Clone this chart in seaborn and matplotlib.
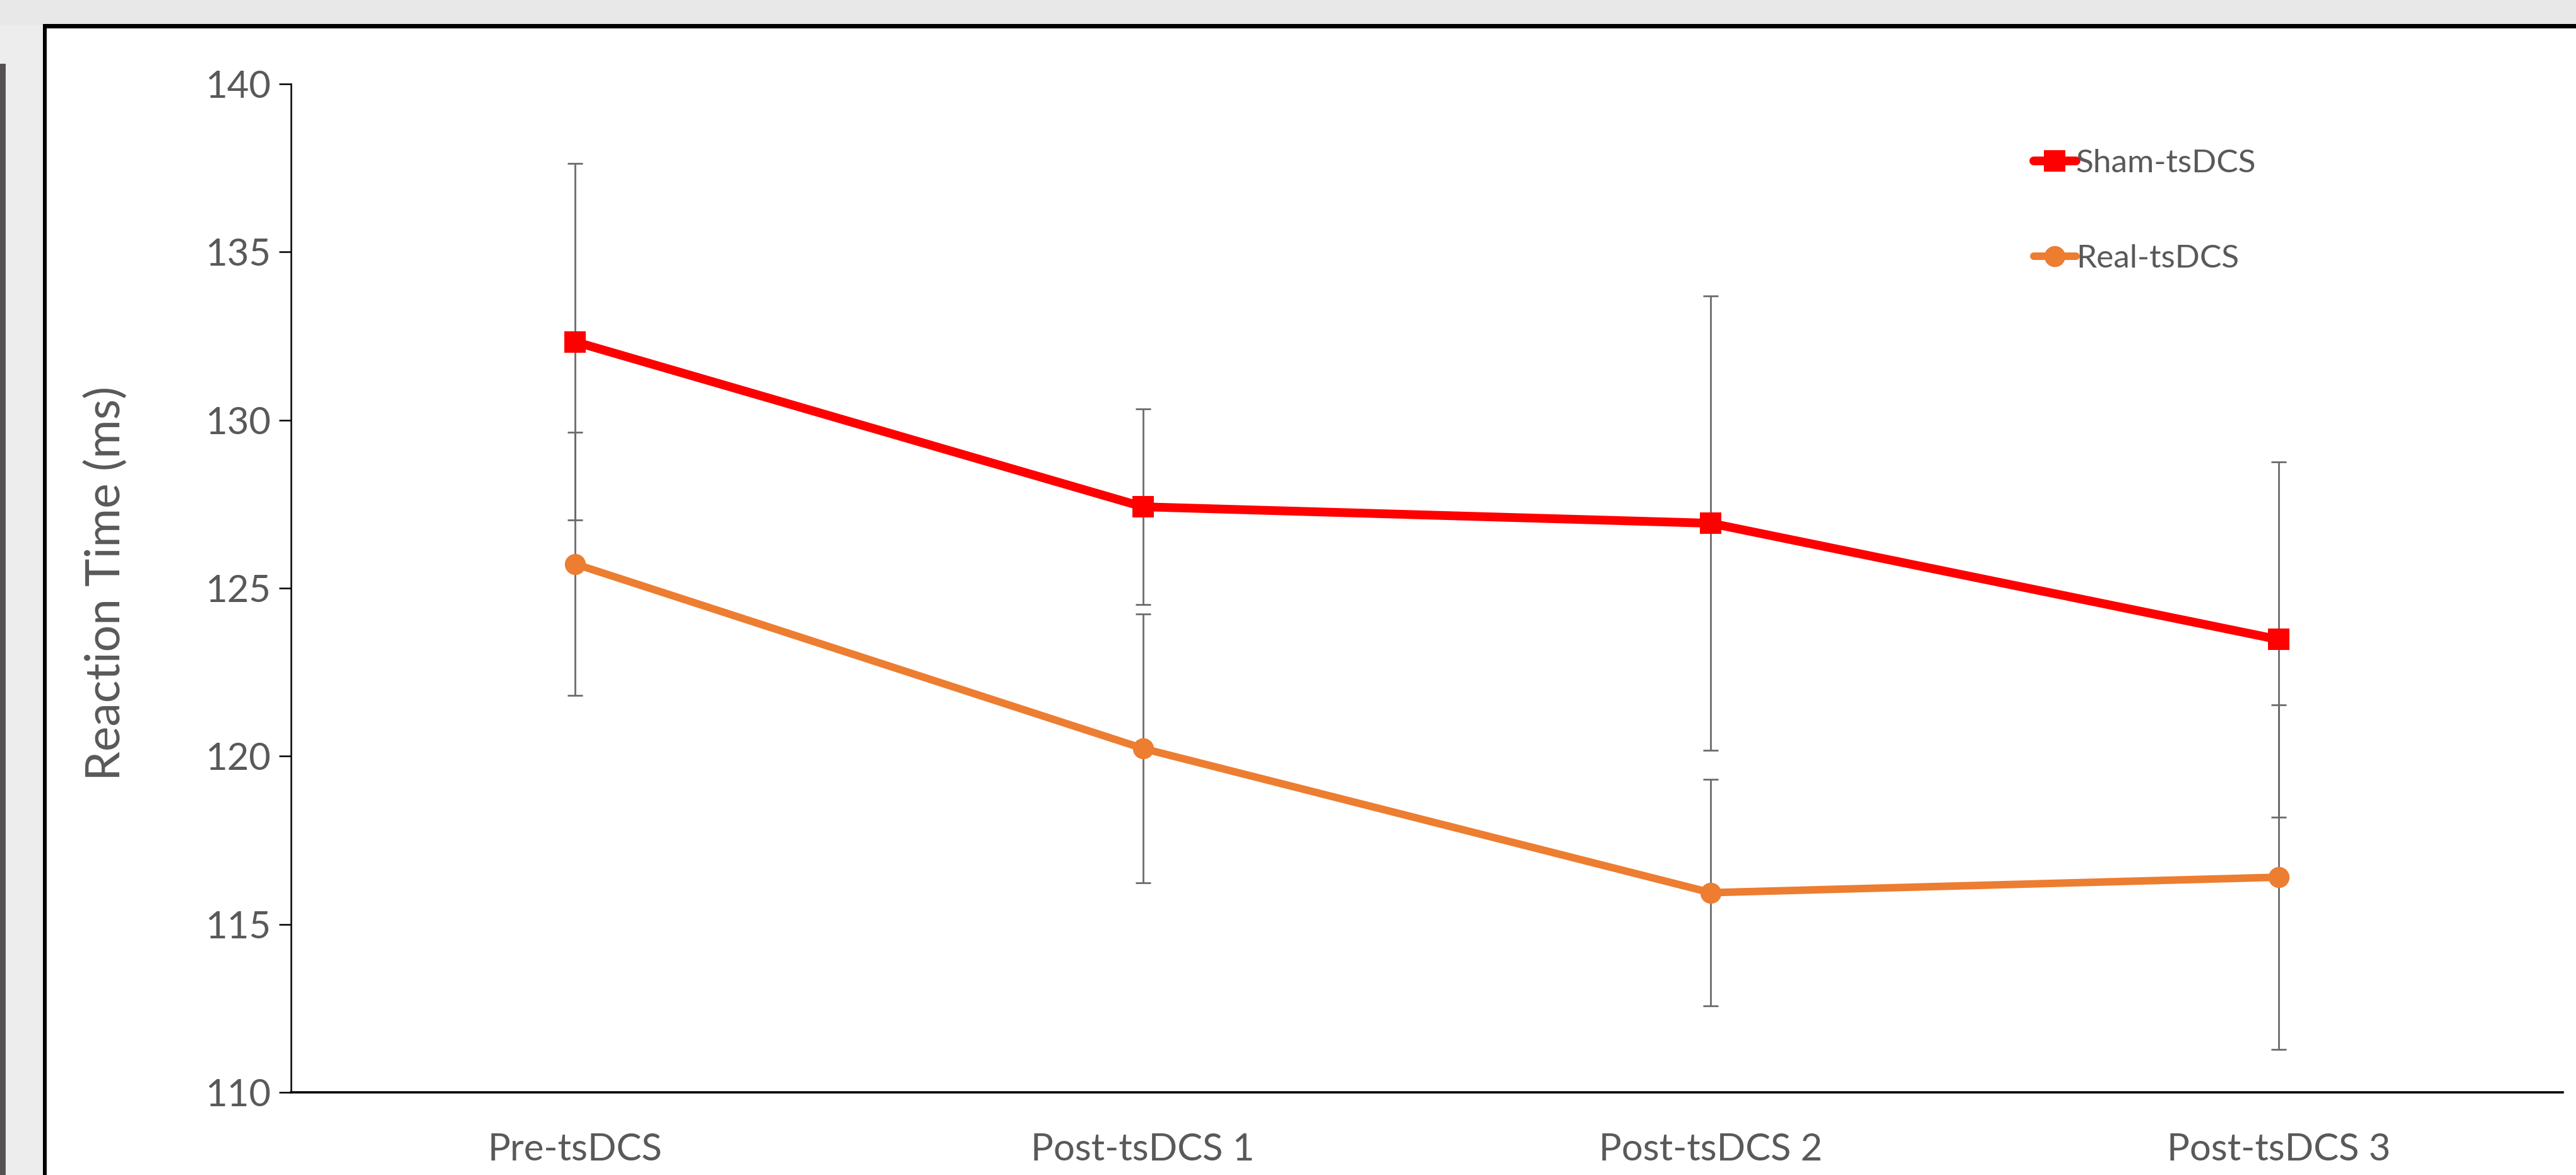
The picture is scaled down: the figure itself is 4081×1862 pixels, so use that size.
import numpy as np
import pandas as pd
import matplotlib
matplotlib.use("Agg")
import matplotlib.pyplot as plt
import seaborn as sns
from matplotlib.patches import Rectangle

# ---- data -------------------------------------------------------------
phases = ["Pre-tsDCS", "Post-tsDCS 1", "Post-tsDCS 2", "Post-tsDCS 3"]
groups = ["Sham-tsDCS", "Real-tsDCS"]
sham_mean = [132.33, 127.42, 126.93, 123.47]
sham_err = [5.30, 2.91, 6.76, 5.28]
real_mean = [125.72, 120.23, 115.94, 116.40]
real_err = [3.92, 4.00, 3.37, 5.12]
y_ticks = [110, 115, 120, 125, 130, 135, 140]
y_label = "Reaction Time (ms)"

# ---- styling ----------------------------------------------------------
sns.set_theme(style="white")
plt.rcParams["font.family"] = ["Lato", "DejaVu Sans"]
TEXT = "#595959"
colors = {"Sham-tsDCS": "#FF0000", "Real-tsDCS": "#ED7D31"}
markers = {"Sham-tsDCS": "s", "Real-tsDCS": "o"}
widths = {"Sham-tsDCS": 10.0, "Real-tsDCS": 8.6}

W, H = 4081, 1862
fig = plt.figure(figsize=(W / 100, H / 100), dpi=100, facecolor="white")

# window chrome around the chart area
fig.patches.append(Rectangle((0, 1 - 40 / H), 1, 40 / H, transform=fig.transFigure,
                             facecolor="#e8e8e8", edgecolor="none", zorder=0))
fig.patches.append(Rectangle((0, 0), 68 / W, 1 - 40 / H, transform=fig.transFigure,
                             facecolor="#ededed", edgecolor="none", zorder=0))
fig.patches.append(Rectangle((0, 0), 9 / W, 1 - 101 / H, transform=fig.transFigure,
                             facecolor="#555150", edgecolor="none", zorder=1))
fig.patches.append(Rectangle((68 / W, 1 - 45 / H), 1 - 68 / W, 7 / H, transform=fig.transFigure,
                             facecolor="black", edgecolor="none", zorder=2))
fig.patches.append(Rectangle((68 / W, 0), 6 / W, 1 - 38 / H, transform=fig.transFigure,
                             facecolor="black", edgecolor="none", zorder=2))

ax = fig.add_axes([461 / W, 1 - 1731 / H, (4060 - 461) / W, (1731 - 133) / H])
ax.set_facecolor("none")

df = pd.DataFrame({
    "phase": phases * 2,
    "group": [groups[0]] * len(phases) + [groups[1]] * len(phases),
    "rt": sham_mean + real_mean,
    "err": sham_err + real_err,
})

xpos = np.arange(len(phases))
for g in groups:
    sub = df[df["group"] == g]
    ax.errorbar(xpos, sub["rt"], yerr=sub["err"], fmt="none", ecolor="#6b6b6b",
                elinewidth=2.0, capsize=8.5, capthick=2.0, zorder=2)

for g in groups:
    sub = df[df["group"] == g]
    sns.lineplot(data=sub, x="phase", y="rt", color=colors[g], marker=markers[g],
                 markersize=24, markeredgewidth=0, linewidth=widths[g],
                 errorbar=None, sort=False, label=g, ax=ax, zorder=3)

ax.set_xlim(-0.5, len(phases) - 0.5)
ax.set_ylim(y_ticks[0], y_ticks[-1])
ax.set_yticks(y_ticks)
ax.set_xticks(xpos)
ax.set_xticklabels(phases)
ax.set_xlabel("")
ax.set_ylabel(y_label, fontsize=54, color=TEXT)
ax.yaxis.set_label_coords(-0.0717, 0.505)

for side in ("top", "right"):
    ax.spines[side].set_visible(False)
ax.spines["left"].set_color("black")
ax.spines["left"].set_linewidth(1.8)
ax.spines["bottom"].set_color("black")
ax.spines["bottom"].set_linewidth(2.6)
ax.tick_params(axis="y", direction="out", length=14, width=1.8, color="black",
               labelsize=43, labelcolor=TEXT, pad=9, left=True)
ax.tick_params(axis="x", length=0, labelsize=43, labelcolor=TEXT, pad=46)

handles, labels = ax.get_legend_handles_labels()
leg = ax.legend(handles, labels, loc="upper left",
                bbox_to_anchor=(3222 / W, 1 - 236 / H), bbox_transform=fig.transFigure,
                frameon=False, fontsize=37, handlelength=1.3, handletextpad=0.0,
                labelspacing=2.05, borderpad=0, borderaxespad=0)
for t in leg.get_texts():
    t.set_color(TEXT)

fig.savefig("out.png", dpi=100, facecolor=fig.get_facecolor())
